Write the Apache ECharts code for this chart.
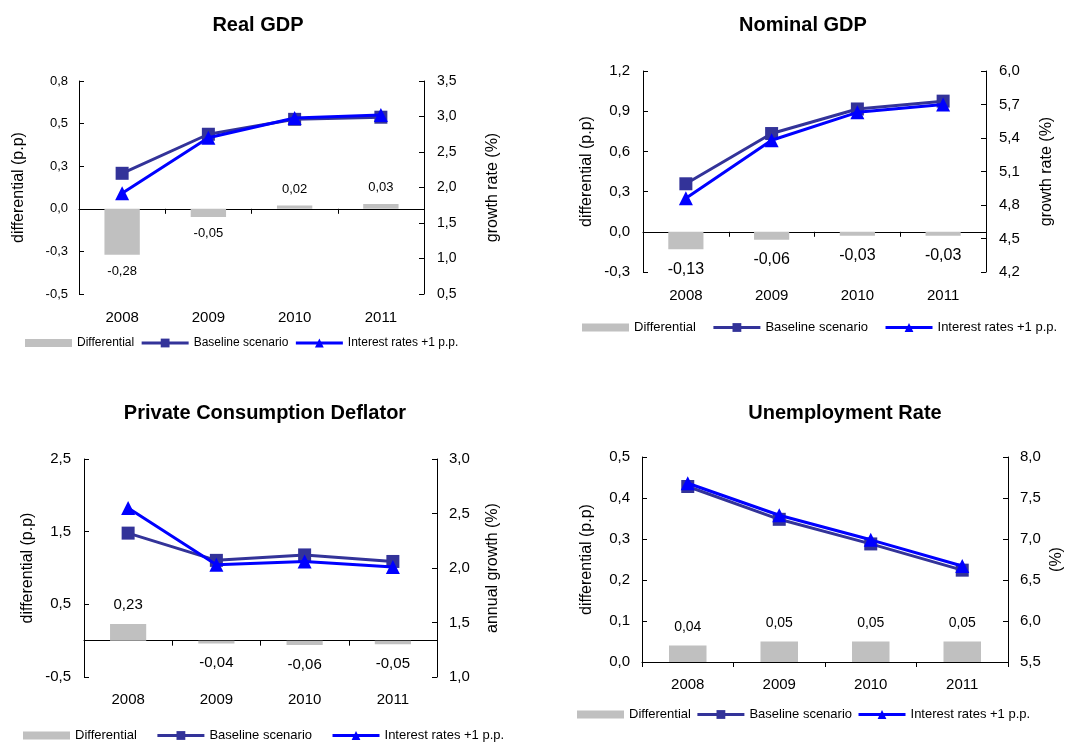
<!DOCTYPE html>
<html>
<head>
<meta charset="utf-8">
<script src="https://cdn.jsdelivr.net/npm/echarts@6/dist/echarts.min.js"></script>
<style>
  html, body { margin: 0; padding: 0; background: #ffffff; }
  #chart { width: 1084px; height: 742px; }
</style>
</head>
<body>
<div id="chart"></div>
<script>
// ---- data ----
const years = ['2008', '2009', '2010', '2011'];
const seriesNames = ['Differential', 'Baseline scenario', 'Interest rates +1 p.p.'];

// Real GDP
const realGdpDiff = [-0.28, -0.05, 0.02, 0.03];
const realGdpBaseline = [2.20, 2.75, 2.96, 2.99];
const realGdpRates = [1.92, 2.70, 2.98, 3.02];
const realGdpLeftAxis = [-0.52, 0.78, 0.26];   // min, max, step
const realGdpRightAxis = [0.5, 3.5, 0.5];

// Nominal GDP
const nominalGdpDiff = [-0.13, -0.06, -0.03, -0.03];
const nominalGdpBaseline = [4.99, 5.44, 5.66, 5.73];
const nominalGdpRates = [4.86, 5.38, 5.63, 5.70];
const nominalGdpLeftAxis = [-0.3, 1.2, 0.3];
const nominalGdpRightAxis = [4.2, 6.0, 0.3];

// Private consumption deflator
const deflatorDiff = [0.23, -0.04, -0.06, -0.05];
const deflatorBaseline = [2.32, 2.07, 2.12, 2.06];
const deflatorRates = [2.55, 2.03, 2.06, 2.01];
const deflatorLeftAxis = [-0.5, 2.5, 1.0];
const deflatorRightAxis = [1.0, 3.0, 0.5];

// Unemployment rate
const unemploymentDiff = [0.04, 0.05, 0.05, 0.05];
const unemploymentBaseline = [7.64, 7.24, 6.94, 6.62];
const unemploymentRates = [7.68, 7.29, 6.99, 6.67];
const unemploymentLeftAxis = [0.0, 0.5, 0.1];
const unemploymentRightAxis = [5.5, 8.0, 0.5];

// ---- layout & style of the four panels ----
const FONT = '"Liberation Sans", Arial, Helvetica, sans-serif';
const GREY = '#c0c0c0';
const NAVY = '#333399';
const BLUE = '#0000ff';

const panels = [
  { title: 'Real GDP', diff: realGdpDiff, base: realGdpBaseline, rate: realGdpRates,
    leftAxis: realGdpLeftAxis, rightAxis: realGdpRightAxis,
    leftName: 'differential (p.p)', rightName: 'growth rate (%)',
    grid: [79, 81, 345, 213], titlePos: [258, 15], legendPos: [25, 337], legendGap: 6, legendFont: 12,
    fonts: { left: 13, right: 14, cat: 15, data: 13 }, nameGap: [52, 61], labelMargin: [11, 13],
    catMargin: 16, dataDist: 10 },
  { title: 'Nominal GDP', diff: nominalGdpDiff, base: nominalGdpBaseline, rate: nominalGdpRates,
    leftAxis: nominalGdpLeftAxis, rightAxis: nominalGdpRightAxis,
    leftName: 'differential (p.p)', rightName: 'growth rate (%)',
    grid: [643, 71, 343, 201], titlePos: [803, 15], legendPos: [582, 321], legendGap: 16, legendFont: 13,
    fonts: { left: 15, right: 15, cat: 15, data: 16 }, nameGap: [48, 53], labelMargin: [13, 13],
    catMargin: 16, dataDist: 12 },
  { title: 'Private Consumption Deflator', diff: deflatorDiff, base: deflatorBaseline, rate: deflatorRates,
    leftAxis: deflatorLeftAxis, rightAxis: deflatorRightAxis,
    leftName: 'differential (p.p)', rightName: 'annual growth (%)',
    grid: [84, 459, 353, 218], titlePos: [265, 403], legendPos: [23, 729], legendGap: 19, legendFont: 13,
    fonts: { left: 15, right: 15, cat: 15, data: 15 }, nameGap: [48, 48], labelMargin: [13, 12],
    catMargin: 15, dataDist: 12 },
  { title: 'Unemployment Rate', diff: unemploymentDiff, base: unemploymentBaseline, rate: unemploymentRates,
    leftAxis: unemploymentLeftAxis, rightAxis: unemploymentRightAxis,
    leftName: 'differential (p.p)', rightName: '(%)',
    grid: [642, 457, 366, 205], titlePos: [845, 403], legendPos: [577, 708], legendGap: 5, legendFont: 13,
    fonts: { left: 15, right: 15, cat: 15, data: 14 }, nameGap: [47, 41], labelMargin: [12, 12],
    catMargin: 15, dataDist: 11 }
];

// decimal comma formatting
const fmt1 = v => (Math.abs(v) < 1e-9 ? 0 : v).toFixed(1).replace('.', ',');
const fmt2 = v => (Math.abs(v) < 1e-9 ? 0 : v).toFixed(2).replace('.', ',');

// legend entries: flat grey block for the bars, line + marker for the scenarios
const legendData = [
  { name: seriesNames[0], icon: 'path://M0,0H46V8H0Z' },
  { name: seriesNames[1] },
  { name: seriesNames[2] }
];

const option = {
  animation: false,
  backgroundColor: '#ffffff',
  textStyle: { fontFamily: FONT, color: '#000' },
  title: [], legend: [], grid: [], xAxis: [], yAxis: [], series: []
};

panels.forEach((p, i) => {
  const xi = 2 * i, yi = 2 * i;

  option.grid.push({ left: p.grid[0], top: p.grid[1], width: p.grid[2], height: p.grid[3] });

  option.title.push({
    text: p.title, left: p.titlePos[0], top: p.titlePos[1], textAlign: 'center', padding: 0,
    textStyle: { fontFamily: FONT, fontSize: 20, fontWeight: 'bold', color: '#000' }
  });

  option.legend.push({
    left: p.legendPos[0], top: p.legendPos[1], padding: 0, orient: 'horizontal',
    itemGap: p.legendGap, itemWidth: 47, itemHeight: 11, selectedMode: false,
    lineStyle: { width: 3 },
    data: legendData,
    textStyle: { fontFamily: FONT, fontSize: p.legendFont, color: '#000' }
  });

  // year labels below the plot
  option.xAxis.push({
    type: 'category', gridIndex: i, data: years, position: 'bottom',
    axisLine: { show: false, onZero: false }, axisTick: { show: false }, splitLine: { show: false },
    axisLabel: { fontFamily: FONT, fontSize: p.fonts.cat, color: '#000', margin: p.catMargin }
  });
  // zero line with category boundary ticks
  option.xAxis.push({
    type: 'category', gridIndex: i, data: years, position: 'bottom',
    axisLine: { show: true, onZero: true, onZeroAxisIndex: yi, lineStyle: { color: '#000', width: 1 } },
    axisTick: { show: true, length: 5, lineStyle: { color: '#000' } },
    axisLabel: { show: false }, splitLine: { show: false }
  });

  const axisCommon = {
    type: 'value', gridIndex: i, splitLine: { show: false }, alignTicks: false,
    axisLine: { show: true, onZero: false, lineStyle: { color: '#000', width: 1 } },
    axisTick: { show: true, inside: true, length: 5, lineStyle: { color: '#000' } },
    nameLocation: 'middle',
    nameTextStyle: { fontFamily: FONT, fontSize: 16, color: '#000' }
  };
  option.yAxis.push(Object.assign({}, axisCommon, {
    position: 'left', min: p.leftAxis[0], max: p.leftAxis[1], interval: p.leftAxis[2],
    name: p.leftName, nameGap: p.nameGap[0],
    axisLabel: { formatter: fmt1, fontFamily: FONT, fontSize: p.fonts.left, color: '#000', margin: p.labelMargin[0] }
  }));
  option.yAxis.push(Object.assign({}, axisCommon, {
    position: 'right', min: p.rightAxis[0], max: p.rightAxis[1], interval: p.rightAxis[2],
    name: p.rightName, nameGap: p.nameGap[1],
    axisLabel: { formatter: fmt1, fontFamily: FONT, fontSize: p.fonts.right, color: '#000', margin: p.labelMargin[1] }
  }));

  option.series.push({
    name: seriesNames[0], type: 'bar', xAxisIndex: xi, yAxisIndex: yi, barWidth: '41%', z: 1,
    itemStyle: { color: GREY },
    data: p.diff.map(v => ({ value: v, label: { position: v < 0 ? 'bottom' : 'top' } })),
    label: {
      show: true, distance: p.dataDist, fontFamily: FONT, fontSize: p.fonts.data, color: '#000',
      formatter: prm => fmt2(prm.value)
    }
  });
  option.series.push({
    name: seriesNames[1], type: 'line', xAxisIndex: xi, yAxisIndex: yi + 1, z: 3,
    symbol: 'rect', symbolSize: 13,
    lineStyle: { color: NAVY, width: 3 }, itemStyle: { color: NAVY },
    data: p.base
  });
  option.series.push({
    name: seriesNames[2], type: 'line', xAxisIndex: xi, yAxisIndex: yi + 1, z: 4,
    symbol: 'triangle', symbolSize: 14,
    lineStyle: { color: BLUE, width: 3 }, itemStyle: { color: BLUE },
    data: p.rate
  });
});

const chart = echarts.init(document.getElementById('chart'), null, { renderer: 'canvas' });
chart.setOption(option);
</script>
</body>
</html>
